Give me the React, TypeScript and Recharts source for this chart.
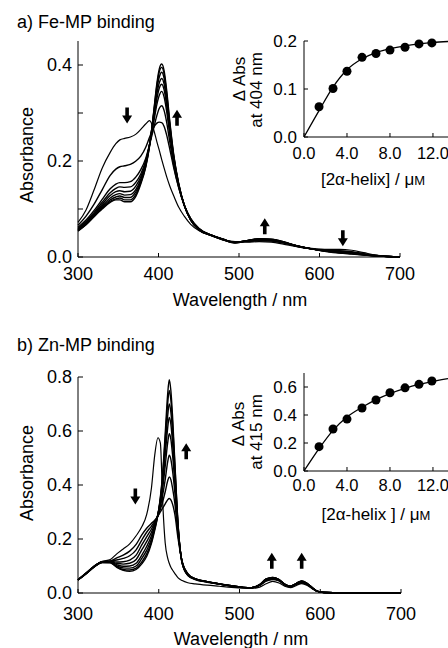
import React from "react";
import { LineChart, Line, XAxis, YAxis, ReferenceDot, ComposedChart, Scatter } from "recharts";

const FONT = '"Liberation Sans", Arial, Helvetica, sans-serif';

// ---- panel a: Fe-MP spectra ----
const waveA = [300, 310, 320, 330, 340, 347, 352, 358, 365, 372, 378, 384, 389, 394, 398, 401, 404, 407, 410, 414, 419, 425, 432, 440, 450, 465, 480, 495, 510, 525, 540, 555, 570, 590, 610, 625, 640, 655, 670, 685, 700];
const feFree = [.072, .098, .14, .185, .218, .236, .244, .247, .25, .256, .266, .277, .284, .265, .24, .222, .203, .185, .168, .148, .127, .104, .085, .068, .055, .045, .037, .032, .031, .032, .031, .027, .022, .018, .016, .016, .014, .009, .004, .001, 0];
const feB1 = [.066, .085, .11, .14, .17, .183, .188, .19, .193, .2, .21, .228, .25, .27, .279, .281, .28, .272, .255, .225, .185, .145, .108, .08, .06, .046, .037, .031, .032, .034, .033, .029, .023, .017, .014, .013, .011, .007, .003, .001, 0];
const feB2 = [.062, .077, .097, .12, .142, .152, .155, .155, .157, .167, .182, .205, .235, .268, .295, .31, .315, .305, .282, .24, .19, .145, .108, .08, .06, .046, .037, .031, .033, .035, .034, .03, .023, .017, .013, .012, .01, .006, .003, .001, 0];
const feB3 = [.06, .074, .093, .114, .134, .143, .146, .145, .146, .156, .173, .2, .235, .28, .318, .337, .345, .333, .305, .255, .198, .148, .108, .079, .059, .046, .037, .031, .034, .036, .035, .031, .024, .017, .013, .011, .009, .006, .003, .001, 0];
const feB4 = [.058, .072, .09, .11, .128, .136, .138, .136, .137, .148, .167, .196, .235, .288, .33, .352, .36, .348, .317, .262, .202, .15, .108, .078, .058, .046, .037, .03, .034, .037, .036, .031, .024, .017, .012, .01, .008, .005, .002, .001, 0];
const feB5 = [.057, .07, .088, .107, .123, .13, .132, .129, .13, .141, .162, .193, .235, .293, .34, .363, .372, .36, .326, .268, .205, .151, .108, .078, .058, .046, .037, .03, .034, .037, .036, .031, .024, .017, .012, .01, .008, .005, .002, .001, 0];
const feB6 = [.056, .069, .086, .104, .119, .125, .127, .124, .124, .136, .158, .19, .235, .297, .35, .375, .385, .372, .336, .274, .208, .152, .108, .077, .057, .045, .036, .03, .034, .037, .036, .031, .024, .017, .012, .009, .007, .005, .002, .001, 0];
const feB7 = [.055, .068, .085, .102, .116, .121, .123, .119, .119, .131, .155, .188, .233, .3, .357, .386, .395, .381, .343, .279, .21, .153, .108, .077, .057, .045, .036, .03, .034, .038, .037, .032, .024, .017, .012, .009, .007, .004, .002, .001, 0];
const feB8 = [.054, .067, .084, .1, .114, .119, .119, .115, .115, .127, .152, .186, .232, .302, .362, .392, .402, .388, .35, .283, .212, .154, .108, .077, .057, .045, .036, .029, .034, .038, .037, .032, .024, .017, .011, .008, .006, .004, .002, .001, 0];

// ---- panel b: Zn-MP spectra ----
const waveB = [300, 310, 320, 330, 340, 348, 356, 364, 372, 379, 385, 391, 395, 399, 402, 405, 408, 411, 413, 415, 417, 420, 424, 429, 436, 445, 460, 475, 490, 505, 515, 525, 533, 541, 549, 556, 563, 570, 577, 584, 590, 596, 605, 620, 650, 700];
const znFree = [.05, .075, .1, .117, .124, .145, .163, .182, .212, .245, .29, .39, .51, .575, .555, .33, .185, .13, .11, .095, .085, .072, .056, .046, .038, .034, .029, .025, .021, .018, .017, .022, .034, .043, .037, .025, .02, .027, .035, .028, .016, .006, .002, .001, 0, 0];
const znB1 = [.049, .073, .099, .116, .119, .13, .14, .155, .18, .215, .24, .258, .27, .285, .3, .315, .33, .345, .35, .345, .33, .29, .2, .115, .072, .053, .042, .034, .027, .021, .02, .028, .044, .05, .045, .03, .023, .031, .038, .031, .018, .007, .002, .001, 0, 0];
const znB2 = [.049, .073, .099, .116, .118, .122, .128, .138, .16, .196, .225, .248, .265, .285, .31, .34, .375, .415, .43, .42, .39, .33, .215, .115, .071, .053, .042, .034, .027, .021, .02, .029, .046, .052, .046, .03, .023, .032, .039, .032, .018, .007, .002, .001, 0, 0];
const znB3 = [.049, .073, .099, .115, .117, .115, .116, .122, .14, .178, .208, .237, .26, .287, .32, .365, .42, .485, .51, .495, .455, .37, .225, .115, .07, .052, .042, .034, .027, .021, .02, .029, .047, .053, .047, .031, .024, .033, .041, .033, .019, .007, .002, .001, 0, 0];
const znB4 = [.048, .072, .098, .115, .116, .11, .107, .11, .124, .16, .19, .225, .255, .29, .33, .39, .47, .555, .59, .57, .515, .405, .235, .115, .069, .052, .041, .034, .027, .021, .02, .03, .049, .055, .048, .031, .024, .034, .042, .034, .019, .007, .002, .001, 0, 0];
const znB5 = [.048, .072, .098, .114, .115, .105, .099, .1, .11, .14, .172, .212, .25, .292, .34, .41, .51, .61, .65, .625, .56, .43, .24, .113, .068, .052, .041, .033, .026, .021, .02, .03, .05, .056, .049, .032, .024, .034, .043, .034, .019, .007, .002, .001, 0, 0];
const znB6 = [.048, .072, .097, .114, .114, .1, .093, .092, .1, .128, .158, .2, .243, .292, .345, .425, .54, .655, .7, .67, .6, .45, .245, .112, .067, .051, .041, .033, .026, .02, .02, .031, .051, .057, .05, .032, .025, .035, .044, .035, .02, .007, .002, .001, 0, 0];
const znB7 = [.048, .071, .097, .113, .113, .097, .087, .085, .092, .115, .145, .19, .237, .29, .35, .44, .57, .7, .75, .715, .635, .47, .25, .11, .066, .051, .041, .033, .026, .02, .02, .031, .052, .058, .05, .033, .025, .035, .045, .035, .02, .007, .002, .001, 0, 0];
const znB8 = [.048, .071, .096, .113, .112, .095, .084, .08, .087, .108, .135, .184, .232, .29, .355, .45, .59, .735, .79, .75, .66, .48, .25, .11, .065, .05, .04, .033, .026, .02, .02, .031, .052, .058, .05, .033, .025, .035, .045, .035, .02, .007, .002, .001, 0, 0];

// ---- insets: titration ----
const helixConc = [1.4, 2.7, 4.0, 5.4, 6.7, 8.0, 9.4, 10.7, 11.9];
const feDelta = [0.063, 0.101, 0.137, 0.166, 0.174, 0.181, 0.187, 0.194, 0.196];
const znDelta = [0.174, 0.3, 0.371, 0.45, 0.507, 0.559, 0.594, 0.619, 0.643];
const fitConc = [0, 1.4, 2.7, 4.0, 5.4, 6.7, 8.0, 9.4, 10.7, 12, 13.4];
const feFit = [0, 0.055, 0.104, 0.14, 0.163, 0.176, 0.184, 0.19, 0.194, 0.197, 0.199];
const znFit = [0, 0.16, 0.29, 0.385, 0.455, 0.51, 0.553, 0.59, 0.618, 0.64, 0.66];

// arrows marking the direction of change (wavelength, absorbance)
const feArrows = [
  { w: 361, v: 0.295, dir: "down" },
  { w: 423, v: 0.29, dir: "up" },
  { w: 532, v: 0.064, dir: "up" },
  { w: 629, v: 0.039, dir: "down" },
];
const znArrows = [
  { w: 371, v: 0.357, dir: "down" },
  { w: 434, v: 0.525, dir: "up" },
  { w: 540, v: 0.119, dir: "up" },
  { w: 577, v: 0.119, dir: "up" },
];

const toRows = (wave: number[], series: number[][]) =>
  wave.map((w, i) => {
    const r: Record<string, number> = { w };
    series.forEach((s, k) => (r["s" + k] = s[i]));
    return r;
  });

const feRows = toRows(waveA, [feFree, feB1, feB2, feB3, feB4, feB5, feB6, feB7, feB8]);
const znRows = toRows(waveB, [znFree, znB1, znB2, znB3, znB4, znB5, znB6, znB7, znB8]);
const seriesKeys = ["s0", "s1", "s2", "s3", "s4", "s5", "s6", "s7", "s8"];

const pairs = (xs: number[], ys: number[]) => xs.map((x, i) => ({ x, y: ys[i] }));

const yTick = (fmt: (v: number) => string, len: number, gap: number, fs: number) => (p: any) => {
  const { x, y, payload } = p;
  const t = fmt(payload.value);
  return (
    <g>
      <line x1={x} x2={x + len} y1={y} y2={y} stroke="#000" strokeWidth={1} />
      {t && (
        <text x={x - gap} y={y} dy="0.36em" textAnchor="end" fontSize={fs} fontFamily={FONT} fill="#000">
          {t}
        </text>
      )}
    </g>
  );
};

const xTick = (fmt: (v: number) => string, len: number, off: number, fs: number) => (p: any) => {
  const { x, y, payload } = p;
  return (
    <g>
      <line x1={x} x2={x} y1={y} y2={y - len} stroke="#000" strokeWidth={1} />
      <text x={x} y={y + off} textAnchor="middle" fontSize={fs} fontFamily={FONT} fill="#000">
        {fmt(payload.value)}
      </text>
    </g>
  );
};

const arrowShape = (dir: string) => (p: any) => {
  const { cx, cy } = p;
  const h = 16, hw = 5, hh = 8, sw = 1.8;
  const s = dir === "down" ? 1 : -1;
  const top = cy - (s * h) / 2;
  const tip = cy + (s * h) / 2;
  const neck = tip - s * hh;
  const d = `M${cx - sw},${top} L${cx + sw},${top} L${cx + sw},${neck} L${cx + hw},${neck} L${cx},${tip} L${cx - hw},${neck} L${cx - sw},${neck} Z`;
  return <path d={d} fill="#000" />;
};

const dotShape = (p: any) => <circle cx={p.cx} cy={p.cy} r={4.5} fill="#000" />;

const axisStroke = { stroke: "#000", strokeWidth: 1 };

function Spectra(props: {
  rows: Record<string, number>[];
  arrows: { w: number; v: number; dir: string }[];
  yMax: number;
  yTicks: number[];
  yFmt: (v: number) => string;
  height: number;
  margin: { top: number; right: number; bottom: number; left: number };
  xOff: number;
}) {
  return (
    <LineChart width={448} height={props.height} data={props.rows} margin={props.margin}>
      <XAxis
        dataKey="w"
        type="number"
        domain={[300, 700]}
        ticks={[300, 400, 500, 600, 700]}
        interval={0}
        height={40}
        tickSize={0}
        tickMargin={0}
        tickLine={false}
        axisLine={axisStroke}
        tick={xTick((v) => String(v), 4, props.xOff, 18)}
      />
      <YAxis
        type="number"
        domain={[0, props.yMax]}
        ticks={props.yTicks}
        interval={0}
        width={78}
        tickSize={0}
        tickMargin={0}
        tickLine={false}
        axisLine={axisStroke}
        tick={yTick(props.yFmt, 5, 6, 18)}
      />
      {seriesKeys.map((k, i) => (
        <Line
          key={k}
          dataKey={k}
          type="monotone"
          stroke="#000"
          strokeWidth={i === 0 ? 1.2 : 1.4}
          dot={false}
          activeDot={false}
          isAnimationActive={false}
        />
      ))}
      {props.arrows.map((a, i) => (
        <ReferenceDot key={i} x={a.w} y={a.v} r={0} shape={arrowShape(a.dir)} />
      ))}
    </LineChart>
  );
}

function Inset(props: {
  dots: { x: number; y: number }[];
  fit: { x: number; y: number }[];
  yMax: number;
  yTicks: number[];
  margin: { top: number; right: number; bottom: number; left: number };
  xOff: number;
}) {
  return (
    <ComposedChart width={198} height={200} margin={props.margin}>
      <XAxis
        dataKey="x"
        type="number"
        domain={[0, 13.4]}
        ticks={[0, 4, 8, 12]}
        interval={0}
        height={30}
        tickSize={0}
        tickMargin={0}
        tickLine={false}
        axisLine={axisStroke}
        tick={xTick((v) => v.toFixed(1), 4, props.xOff, 16.5)}
        allowDataOverflow
      />
      <YAxis
        type="number"
        dataKey="y"
        domain={[0, props.yMax]}
        ticks={props.yTicks}
        interval={0}
        width={54}
        tickSize={0}
        tickMargin={0}
        tickLine={false}
        axisLine={axisStroke}
        tick={yTick((v) => v.toFixed(1), 4, 7, 17)}
      />
      <Line data={props.fit} dataKey="y" type="monotone" stroke="#000" strokeWidth={1.3} dot={false} activeDot={false} isAnimationActive={false} />
      <Scatter data={props.dots} dataKey="y" fill="#000" shape={dotShape} isAnimationActive={false} />
    </ComposedChart>
  );
}

const abs = (x: number, y: number): React.CSSProperties => ({ position: "absolute", left: x, top: y });

export default function App() {
  const txt = { fontFamily: FONT, fill: "#000" } as const;
  return (
    <div style={{ position: "absolute", left: 0, top: 0, width: 448, height: 648, overflow: "hidden", background: "#fff" }}>
      <div style={abs(0, 0)}>
        <Spectra
          rows={feRows}
          arrows={feArrows}
          yMax={0.45}
          yTicks={[0, 0.1, 0.2, 0.3, 0.4]}
          yFmt={(v) => (Math.round(v * 10) % 2 === 0 ? v.toFixed(1) : "")}
          height={320}
          margin={{ top: 41, right: 48, bottom: 23, left: 0 }}
          xOff={23}
        />
      </div>
      <div style={abs(0, 320)}>
        <Spectra
          rows={znRows}
          arrows={znArrows}
          yMax={0.8}
          yTicks={[0, 0.2, 0.4, 0.6, 0.8]}
          yFmt={(v) => v.toFixed(1)}
          height={328}
          margin={{ top: 57, right: 47, bottom: 15, left: 0 }}
          xOff={27}
        />
      </div>
      <div style={abs(250, 0)}>
        <Inset
          dots={pairs(helixConc, feDelta)}
          fit={pairs(fitConc, feFit)}
          yMax={0.2}
          yTicks={[0, 0.1, 0.2]}
          margin={{ top: 41, right: 0, bottom: 33, left: 0 }}
          xOff={22}
        />
      </div>
      <div style={abs(250, 320)}>
        <Inset
          dots={pairs(helixConc, znDelta)}
          fit={pairs(fitConc, znFit)}
          yMax={0.7}
          yTicks={[0, 0.2, 0.4, 0.6]}
          margin={{ top: 53, right: 0, bottom: 19, left: 0 }}
          xOff={20}
        />
      </div>
      <svg width={448} height={648} style={{ position: "absolute", left: 0, top: 0, pointerEvents: "none" }}>
        <text x={17} y={28} fontSize={18} {...txt}>a) Fe-MP binding</text>
        <text x={17} y={351} fontSize={18} {...txt}>b) Zn-MP binding</text>
        <text transform="translate(33,155) rotate(-90)" textAnchor="middle" fontSize={18} {...txt}>Absorbance</text>
        <text transform="translate(33,473) rotate(-90)" textAnchor="middle" fontSize={18} {...txt}>Absorbance</text>
        <text x={240} y={306} textAnchor="middle" fontSize={18} {...txt}>Wavelength / nm</text>
        <text x={241} y={645} textAnchor="middle" fontSize={18} {...txt}>Wavelength / nm</text>

        <text transform="translate(245,79) rotate(-90)" textAnchor="middle" fontSize={17} {...txt}>Δ Abs</text>
        <text transform="translate(262,90) rotate(-90)" textAnchor="middle" fontSize={17} {...txt}>at 404 nm</text>
        <text x={373} y={185} textAnchor="middle" fontSize={17} {...txt}>
          [2α-helix] / μ<tspan fontSize={13}>M</tspan>
        </text>

        <text transform="translate(244,424) rotate(-90)" textAnchor="middle" fontSize={17} {...txt}>Δ Abs</text>
        <text transform="translate(262,432) rotate(-90)" textAnchor="middle" fontSize={17} {...txt}>at 415 nm</text>
        <text x={376} y={520} textAnchor="middle" fontSize={17} {...txt}>
          [2α-helix ] / μ<tspan fontSize={13}>M</tspan>
        </text>
      </svg>
    </div>
  );
}
